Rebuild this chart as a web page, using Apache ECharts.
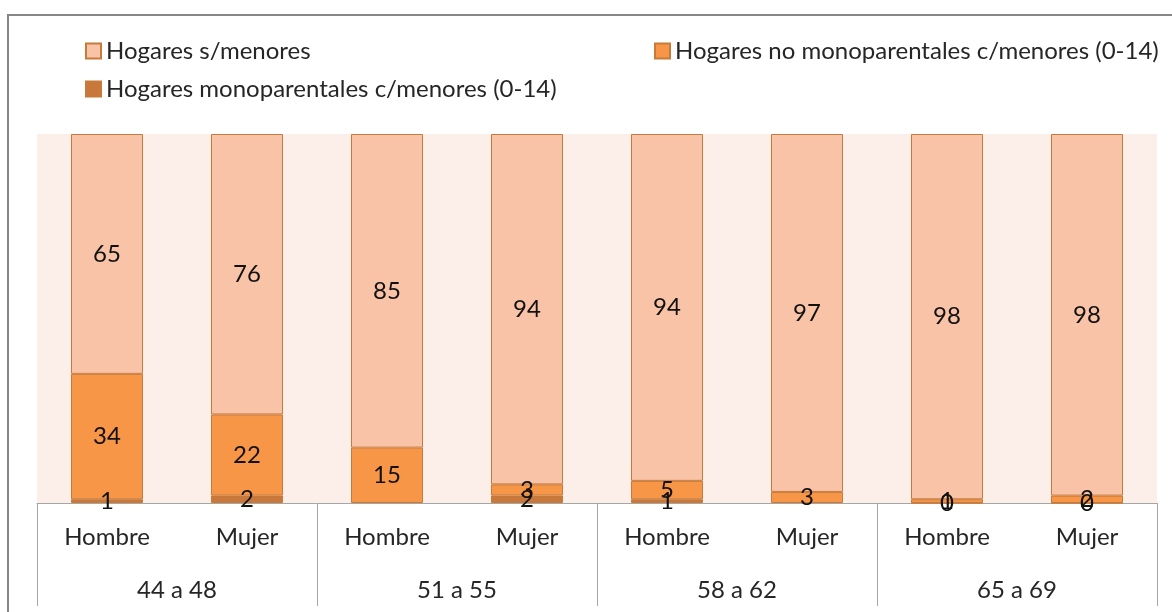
<!DOCTYPE html>
<html>
<head>
<meta charset="utf-8">
<script src="https://cdn.jsdelivr.net/npm/echarts@6/dist/echarts.min.js"></script>
<style>
html,body{margin:0;padding:0;background:#fff;}
#c{width:1172px;height:612px;}
</style>
</head>
<body>
<div id="c"></div>
<script>
const sexLabels = ['Hombre','Mujer','Hombre','Mujer','Hombre','Mujer','Hombre','Mujer'];
const ageGroups = ['44 a 48','51 a 55','58 a 62','65 a 69'];
const seriesNames = ['Hogares s/menores','Hogares no monoparentales c/menores (0-14)','Hogares monoparentales c/menores (0-14)'];
const monoparentales = [1, 2, null, 2, 1, null, 0, 0];
const noMonoparentales = [34, 22, 15, 3, 5, 3, 1, 2];
const sinMenores = [65, 76, 85, 94, 94, 97, 98, 98];

// 100% stacked: each column is shown as share of its total, labels keep the printed value
const totals = sexLabels.map((_, i) => (monoparentales[i] || 0) + noMonoparentales[i] + sinMenores[i]);
function pct(arr){
  return arr.map((v, i) => v === null ? null : {value: v / totals[i] * 100, raw: v});
}

const FONT = 'Lato';
const FS = 24;
const chart = echarts.init(document.getElementById('c'), null, {renderer:'canvas'});
const labelStyle = {show:true, position:'inside', color:'#111', fontFamily:FONT, fontSize:FS,
  formatter: p => String(p.data.raw)};
const border = '#C77A3A';

function legendAt(name, left, top){
  return {data:[name], left:left, top:top, icon:'rect', itemWidth:15, itemHeight:15, itemGap:0,
    textStyle:{fontFamily:FONT, fontSize:FS, color:'#262626'}, selectedMode:false};
}

chart.setOption({
  animation:false,
  backgroundColor:'#fff',
  graphic:[{type:'rect', shape:{x:8, y:15, width:1300, height:800}, style:{fill:'none', stroke:'#868686', lineWidth:2}, silent:true}],
  legend:[
    legendAt(seriesNames[0], 80, 34),
    legendAt(seriesNames[1], 649, 34),
    legendAt(seriesNames[2], 80, 72)
  ],
  grid:{left:37, right:15, top:134, bottom:109, show:true, backgroundColor:'#FCEEE9', borderWidth:0},
  xAxis:[
    {type:'category', data:sexLabels, position:'bottom', offset:0,
     axisLine:{show:true, lineStyle:{color:'#A6A6A6', width:1}},
     axisTick:{show:false},
     axisLabel:{interval:0, margin:22, fontFamily:FONT, fontSize:FS, color:'#262626'}},
    {type:'category', data:ageGroups, position:'bottom', offset:0,
     axisLine:{show:false},
     axisTick:{show:true, length:103, interval:0, lineStyle:{color:'#A6A6A6', width:1}},
     axisLabel:{interval:0, margin:75, fontFamily:FONT, fontSize:FS, color:'#262626'}}
  ],
  yAxis:{type:'value', min:0, max:100, show:false, splitLine:{show:false}},
  series:[
    {name:seriesNames[2], type:'bar', stack:'s', xAxisIndex:0, data:pct(monoparentales), barWidth:72,
     itemStyle:{color:'#C8783A', borderColor:border, borderWidth:1}, label:labelStyle},
    {name:seriesNames[1], type:'bar', stack:'s', xAxisIndex:0, data:pct(noMonoparentales), barWidth:72,
     itemStyle:{color:'#F79646', borderColor:border, borderWidth:1}, label:labelStyle},
    {name:seriesNames[0], type:'bar', stack:'s', xAxisIndex:0, data:pct(sinMenores), barWidth:72,
     itemStyle:{color:'#F9C3A8', borderColor:border, borderWidth:1}, label:labelStyle}
  ]
});
</script>
</body>
</html>
